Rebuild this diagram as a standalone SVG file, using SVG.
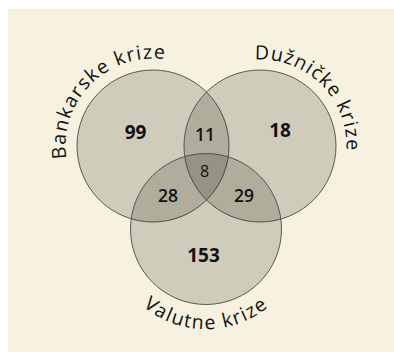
<svg xmlns="http://www.w3.org/2000/svg" width="394" height="352" viewBox="0 0 394 352">
<style>
.set{fill:#1f2418;fill-opacity:0.18;stroke:#4a4a42;stroke-width:0.9}
.big{font-family:"Open Sans","Noto Sans",sans-serif;font-weight:700;font-size:19px;fill:#111;text-anchor:middle}
.mid{font-family:"Open Sans","Noto Sans",sans-serif;font-weight:600;font-size:17.5px;fill:#111;text-anchor:middle}
.small{font-family:"Open Sans","Noto Sans",sans-serif;font-weight:400;font-size:16px;fill:#111;text-anchor:middle}
.lbl{font-family:"Open Sans","Noto Sans",sans-serif;font-size:19.5px;fill:#111;text-anchor:middle}
</style>
<defs>
<path id="arcA" d="M68.5,168.6 A87.5,87.5 0 0 1 175.6,61.5"/>
<path id="arcD" d="M237.6,62.4 A86.5,86.5 0 0 1 343.6,168.4"/>
<path id="arcV" d="M121,280 A98,98 0 0 0 291,280"/>
</defs>
<rect x="8" y="9" width="386" height="343" fill="#f7f2e0"/>
<g id="bankarske">
<circle class="set" cx="153" cy="146" r="76"/>
<text class="lbl" letter-spacing="1.3"><textPath href="#arcA" startOffset="50%">Bankarske krize</textPath></text>
</g>
<g id="duznicke">
<circle class="set" cx="260" cy="146" r="76"/>
<text class="lbl" letter-spacing="1.1"><textPath href="#arcD" startOffset="50%">Dužničke krize</textPath></text>
</g>
<g id="valutne">
<circle class="set" cx="206" cy="229" r="75.5"/>
<text class="lbl" letter-spacing="1.5"><textPath href="#arcV" startOffset="50%">Valutne krize</textPath></text>
</g>
<g id="counts">
<text class="big" x="135.5" y="139.3">99</text>
<text class="big" x="280" y="137.3">18</text>
<text class="big" x="203.5" y="262.3">153</text>
<text class="mid" x="205" y="140.5">11</text>
<text class="mid" x="168" y="202.3">28</text>
<text class="mid" x="244" y="202.3">29</text>
<text class="small" x="204.5" y="176.7">8</text>
</g>
<g id="connectors"/>
</svg>
